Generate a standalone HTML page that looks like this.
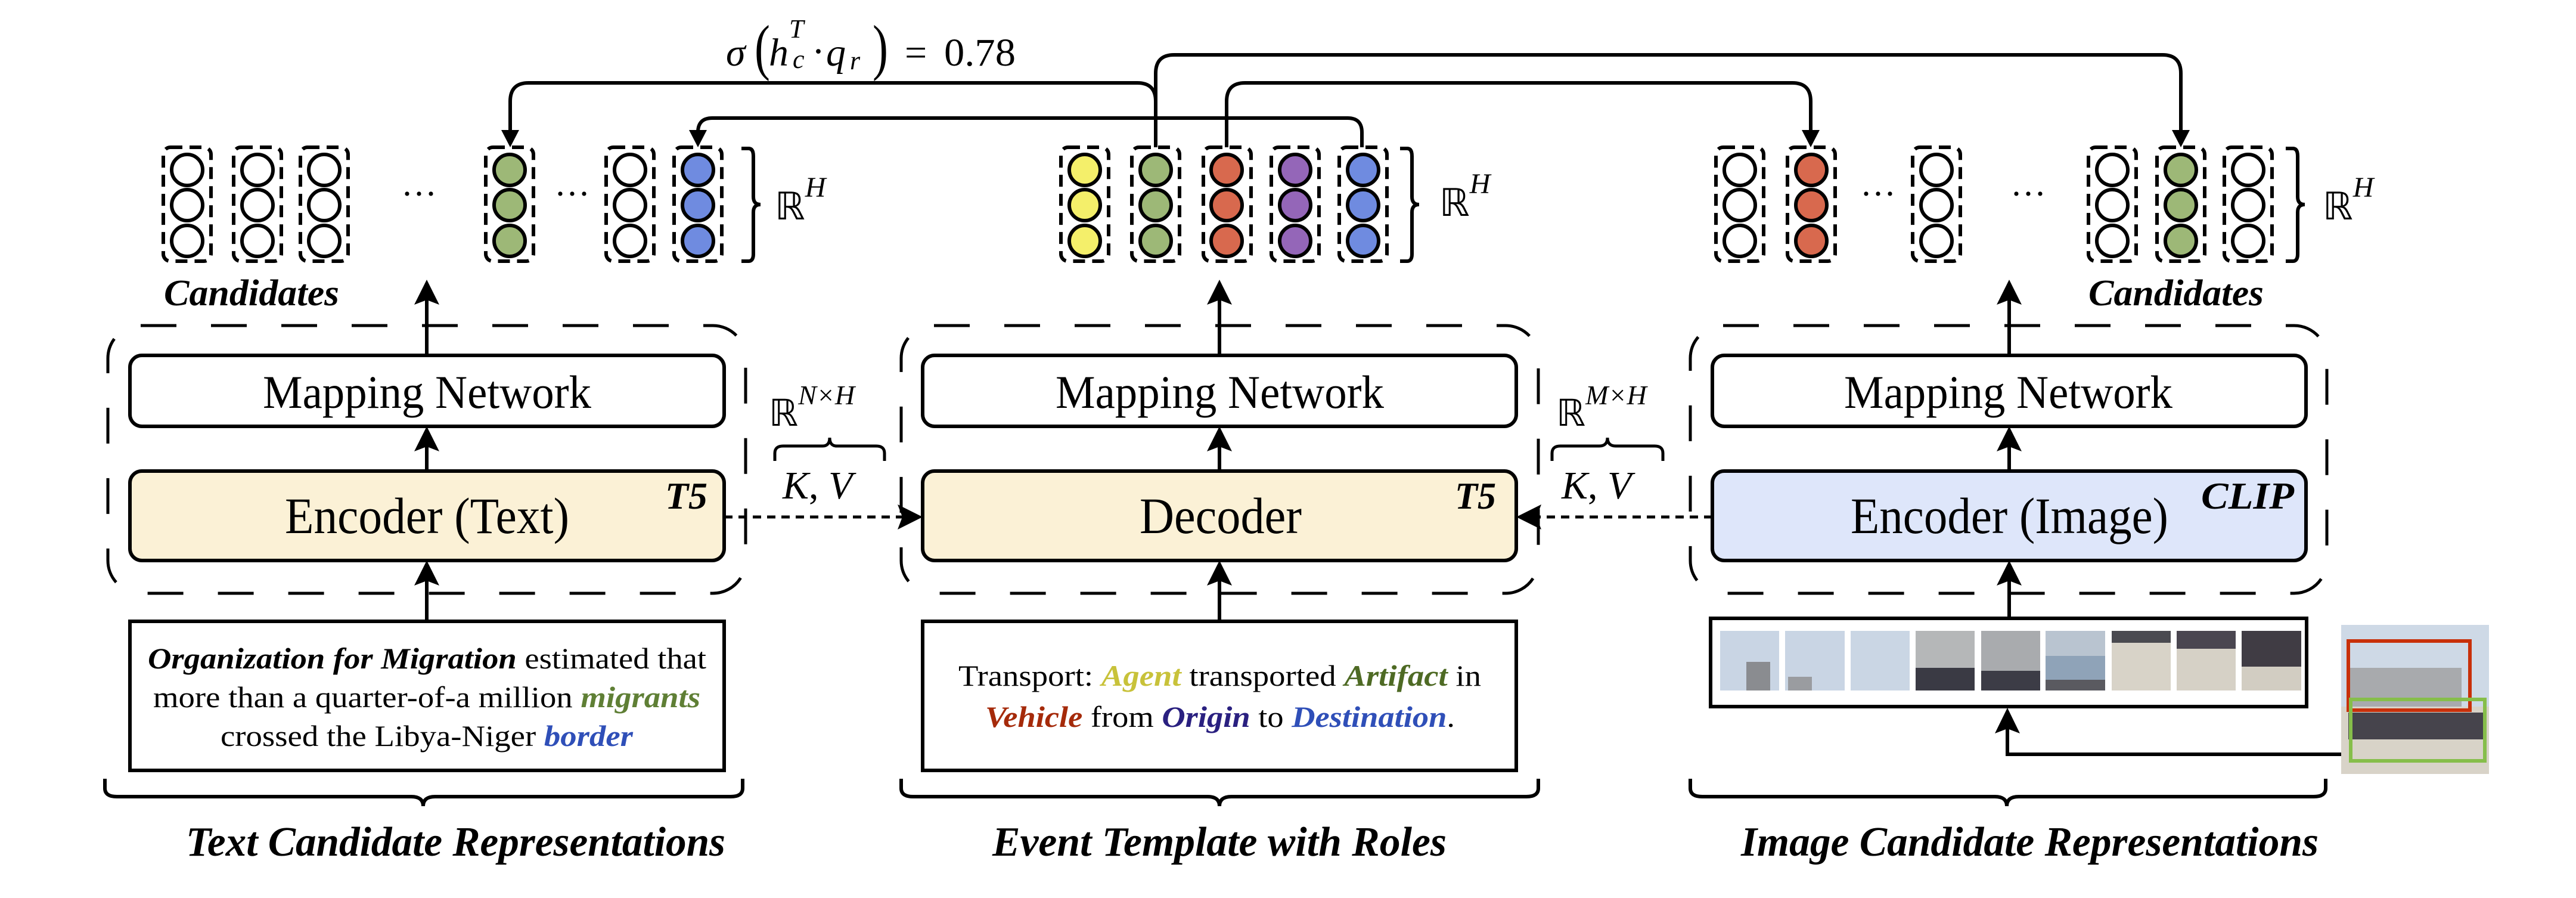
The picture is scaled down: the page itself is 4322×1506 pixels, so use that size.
<!DOCTYPE html>
<html><head><meta charset="utf-8"><style>
html,body{margin:0;padding:0;background:#fff;}
svg{display:block;}
.serif{font-family:"Liberation Serif",serif;}
</style></head><body>
<svg width="4322" height="1506" viewBox="0 0 4322 1506" xmlns="http://www.w3.org/2000/svg" class="serif">
<defs>
<g id="col"><rect x="0" y="0" width="80" height="191" rx="12" fill="none" stroke="#000" stroke-width="6" stroke-dasharray="20 12"/></g>
</defs>

<!-- formula -->
<g font-size="66">
<text x="1218" y="110" font-style="italic">σ</text>
<text x="1266" y="114" font-size="104" transform="translate(1266 0) scale(0.75 1) translate(-1266 0)">(</text>
<text x="1290" y="110" font-style="italic">h</text>
<text x="1324" y="63" font-style="italic" font-size="44">T</text>
<text x="1330" y="114" font-style="italic" font-size="44">c</text>
<text x="1362" y="108">·</text>
<text x="1386" y="110" font-style="italic">q</text>
<text x="1426" y="116" font-style="italic" font-size="44">r</text>
<text x="1464" y="114" font-size="104" transform="translate(1464 0) scale(0.75 1) translate(-1464 0)">)</text>
<text x="1518" y="110">=</text>
<text x="1584" y="110" textLength="120" lengthAdjust="spacingAndGlyphs">0.78</text>
</g>

<!-- connector lines -->
<g fill="none" stroke="#000" stroke-width="6">
<path d="M856 225 V170 Q856 139 887 139 H1908 Q1939 139 1939 170"/>
<path d="M1939 247 V123 Q1939 92 1970 92 H3628 Q3659 92 3659 123 V225"/>
<path d="M2058 247 V170 Q2058 139 2089 139 H3007 Q3038 139 3038 170 V225"/>
<path d="M2285 247 V222 Q2285 198 2261 198 H1195 Q1171 198 1171 222 V225"/>
</g>
<g fill="#000">
<polygon points="841,218 871,218 856,247"/>
<polygon points="1156,218 1186,218 1171,247"/>
<polygon points="3023,218 3053,218 3038,247"/>
<polygon points="3644,218 3674,218 3659,247"/>
</g>

<!-- candidate columns -->
<g stroke="#000" stroke-width="6">
<use href="#col" x="274" y="247"/><use href="#col" x="392" y="247"/><use href="#col" x="504" y="247"/>
<use href="#col" x="815" y="247"/><use href="#col" x="1017" y="247"/><use href="#col" x="1131" y="247"/>
<g fill="#fff"><circle cx="314" cy="285" r="26"/><circle cx="314" cy="344" r="26"/><circle cx="314" cy="404" r="26"/>
<circle cx="432" cy="285" r="26"/><circle cx="432" cy="344" r="26"/><circle cx="432" cy="404" r="26"/>
<circle cx="544" cy="285" r="26"/><circle cx="544" cy="344" r="26"/><circle cx="544" cy="404" r="26"/>
<circle cx="1057" cy="285" r="26"/><circle cx="1057" cy="344" r="26"/><circle cx="1057" cy="404" r="26"/></g>
<g fill="#9DB877"><circle cx="855" cy="285" r="26"/><circle cx="855" cy="344" r="26"/><circle cx="855" cy="404" r="26"/></g>
<g fill="#6F8BE0"><circle cx="1171" cy="285" r="26"/><circle cx="1171" cy="344" r="26"/><circle cx="1171" cy="404" r="26"/></g>
<use href="#col" x="1780" y="247"/><use href="#col" x="1899" y="247"/><use href="#col" x="2019" y="247"/><use href="#col" x="2133" y="247"/><use href="#col" x="2247" y="247"/>
<g fill="#F4EF6A"><circle cx="1820" cy="285" r="26"/><circle cx="1820" cy="344" r="26"/><circle cx="1820" cy="404" r="26"/></g>
<g fill="#9DB877"><circle cx="1939" cy="285" r="26"/><circle cx="1939" cy="344" r="26"/><circle cx="1939" cy="404" r="26"/></g>
<g fill="#D8694E"><circle cx="2058" cy="285" r="26"/><circle cx="2058" cy="344" r="26"/><circle cx="2058" cy="404" r="26"/></g>
<g fill="#9466B8"><circle cx="2173" cy="285" r="26"/><circle cx="2173" cy="344" r="26"/><circle cx="2173" cy="404" r="26"/></g>
<g fill="#6F8BE0"><circle cx="2287" cy="285" r="26"/><circle cx="2287" cy="344" r="26"/><circle cx="2287" cy="404" r="26"/></g>
<use href="#col" x="2879" y="247"/><use href="#col" x="2999" y="247"/><use href="#col" x="3209" y="247"/>
<use href="#col" x="3504" y="247"/><use href="#col" x="3619" y="247"/><use href="#col" x="3732" y="247"/>
<g fill="#fff"><circle cx="2919" cy="285" r="26"/><circle cx="2919" cy="344" r="26"/><circle cx="2919" cy="404" r="26"/>
<circle cx="3249" cy="285" r="26"/><circle cx="3249" cy="344" r="26"/><circle cx="3249" cy="404" r="26"/>
<circle cx="3544" cy="285" r="26"/><circle cx="3544" cy="344" r="26"/><circle cx="3544" cy="404" r="26"/>
<circle cx="3772" cy="285" r="26"/><circle cx="3772" cy="344" r="26"/><circle cx="3772" cy="404" r="26"/></g>
<g fill="#D8694E"><circle cx="3039" cy="285" r="26"/><circle cx="3039" cy="344" r="26"/><circle cx="3039" cy="404" r="26"/></g>
<g fill="#9DB877"><circle cx="3659" cy="285" r="26"/><circle cx="3659" cy="344" r="26"/><circle cx="3659" cy="404" r="26"/></g>
</g>

<g font-size="60" text-anchor="middle"><text x="703" y="345">···</text><text x="960" y="345">···</text><text x="3151" y="345">···</text><text x="3403" y="345">···</text></g>

<g fill="none" stroke="#000" stroke-width="6">
<path d="M1244 249 H1256 Q1264 249 1264 262 V330 Q1264 343 1276 343 Q1264 343 1264 356 V426 Q1264 438 1256 438 H1244"/>
<path d="M2349 249 H2361 Q2369 249 2369 262 V330 Q2369 343 2381 343 Q2369 343 2369 356 V426 Q2369 438 2361 438 H2349"/>
<path d="M3835 249 H3847 Q3855 249 3855 262 V330 Q3855 343 3867 343 Q3855 343 3855 356 V426 Q3855 438 3847 438 H3835"/>
</g>
<g font-size="64"><text x="1300" y="368">ℝ<tspan font-style="italic" font-size="48" dy="-38">H</tspan></text>
<text x="2415" y="362">ℝ<tspan font-style="italic" font-size="48" dy="-38">H</tspan></text>
<text x="3897" y="368">ℝ<tspan font-style="italic" font-size="48" dy="-38">H</tspan></text></g>

<g font-size="62" font-weight="bold" font-style="italic">
<text x="275" y="512" textLength="294" lengthAdjust="spacingAndGlyphs">Candidates</text>
<text x="3504" y="512" textLength="294" lengthAdjust="spacingAndGlyphs">Candidates</text>
</g>

<g fill="none" stroke="#000" stroke-width="5" stroke-dasharray="60 58">
<rect x="181" y="546" width="1070" height="449" rx="55"/>
<rect x="1512" y="546" width="1069" height="449" rx="55"/>
<rect x="2836" y="546" width="1068" height="449" rx="55"/>
</g>

<g stroke="#000" stroke-width="6">
<rect x="218" y="596" width="997" height="119" rx="20" fill="#fff"/>
<rect x="218" y="790" width="997" height="150" rx="20" fill="#FBF1D6"/>
<rect x="1548" y="596" width="996" height="119" rx="20" fill="#fff"/>
<rect x="1548" y="790" width="996" height="150" rx="20" fill="#FBF1D6"/>
<rect x="2873" y="596" width="996" height="119" rx="20" fill="#fff"/>
<rect x="2873" y="790" width="996" height="150" rx="20" fill="#DEE6FA"/>
<rect x="218" y="1042" width="997" height="250" fill="#fff"/>
<rect x="1548" y="1042" width="996" height="250" fill="#fff"/>
<rect x="2870" y="1037" width="1000" height="148" fill="#fff"/>
</g>

<g font-size="78">
<text x="441" y="684" textLength="551" lengthAdjust="spacingAndGlyphs">Mapping Network</text>
<text x="1771" y="684" textLength="551" lengthAdjust="spacingAndGlyphs">Mapping Network</text>
<text x="3094" y="684" textLength="551" lengthAdjust="spacingAndGlyphs">Mapping Network</text>
</g>
<g font-size="86">
<text x="478" y="894" textLength="477" lengthAdjust="spacingAndGlyphs">Encoder (Text)</text>
<text x="1912" y="894" textLength="272" lengthAdjust="spacingAndGlyphs">Decoder</text>
<text x="3105" y="894" textLength="533" lengthAdjust="spacingAndGlyphs">Encoder (Image)</text>
</g>
<g font-size="64" font-weight="bold" font-style="italic">
<text x="1116" y="853" textLength="71" lengthAdjust="spacingAndGlyphs">T5</text>
<text x="2441" y="853" textLength="69" lengthAdjust="spacingAndGlyphs">T5</text>
<text x="3693" y="853" textLength="156" lengthAdjust="spacingAndGlyphs">CLIP</text>
</g>

<g stroke="#000" stroke-width="6">
<line x1="716" y1="596" x2="716" y2="495"/><line x1="716" y1="790" x2="716" y2="740"/><line x1="716" y1="1042" x2="716" y2="965"/>
<line x1="2046" y1="596" x2="2046" y2="495"/><line x1="2046" y1="790" x2="2046" y2="740"/><line x1="2046" y1="1042" x2="2046" y2="965"/>
<line x1="3371" y1="596" x2="3371" y2="495"/><line x1="3371" y1="790" x2="3371" y2="740"/><line x1="3371" y1="1037" x2="3371" y2="965"/>
<polyline points="3928,1265 3368,1265 3368,1215" fill="none"/>
</g>
<g fill="#000">
<polygon points="716,469 695,511 716,503 737,511"/><polygon points="716,715 695,757 716,749 737,757"/><polygon points="716,940 695,982 716,974 737,982"/>
<polygon points="2046,469 2025,511 2046,503 2067,511"/><polygon points="2046,715 2025,757 2046,749 2067,757"/><polygon points="2046,940 2025,982 2046,974 2067,982"/>
<polygon points="3371,469 3350,511 3371,503 3392,511"/><polygon points="3371,715 3350,757 3371,749 3392,757"/><polygon points="3371,940 3350,982 3371,974 3392,982"/>
<polygon points="3368,1187 3347,1230 3368,1222 3389,1230"/>
</g>

<g stroke="#000" stroke-width="5" stroke-dasharray="14 10">
<line x1="1215" y1="867" x2="1520" y2="867"/>
<line x1="2873" y1="867" x2="2570" y2="867"/>
</g>
<g fill="#000"><polygon points="1548,867 1506,846 1514,867 1506,888"/><polygon points="2544,867 2586,846 2578,867 2586,888"/></g>
<g font-size="62">
<text x="1290" y="714">ℝ<tspan font-style="italic" font-size="46" dy="-36">N×H</tspan></text>
<text x="2611" y="714">ℝ<tspan font-style="italic" font-size="46" dy="-36">M×H</tspan></text>
<text x="1313" y="836" font-style="italic" font-size="66">K<tspan font-style="normal">, </tspan>V</text>
<text x="2620" y="836" font-style="italic" font-size="66">K<tspan font-style="normal">, </tspan>V</text>
</g>
<g fill="none" stroke="#000" stroke-width="5">
<path d="M1300 773 V760 Q1300 748 1314 748 H1380 Q1392 748 1392 734 Q1392 748 1404 748 H1470 Q1484 748 1484 760 V773"/>
<path d="M2604 773 V760 Q2604 748 2618 748 H2683 Q2697 748 2697 734 Q2697 748 2711 748 H2776 Q2790 748 2790 760 V773"/>
</g>

<g font-size="50">
<text x="248" y="1121" textLength="937" lengthAdjust="spacingAndGlyphs"><tspan font-weight="bold" font-style="italic">Organization for Migration</tspan> estimated that</text>
<text x="257" y="1186" textLength="918" lengthAdjust="spacingAndGlyphs">more than a quarter-of-a million <tspan font-weight="bold" font-style="italic" fill="#5F7F35">migrants</tspan></text>
<text x="370" y="1251" textLength="692" lengthAdjust="spacingAndGlyphs">crossed the Libya-Niger <tspan font-weight="bold" font-style="italic" fill="#2F4FB8">border</tspan></text>
<text x="1608" y="1150" textLength="877" lengthAdjust="spacingAndGlyphs">Transport: <tspan font-weight="bold" font-style="italic" fill="#C8C23A">Agent</tspan> transported <tspan font-weight="bold" font-style="italic" fill="#4E6A24">Artifact</tspan> in</text>
<text x="1653" y="1219" textLength="788" lengthAdjust="spacingAndGlyphs"><tspan font-weight="bold" font-style="italic" fill="#A52A0A">Vehicle</tspan> from <tspan font-weight="bold" font-style="italic" fill="#2A2080">Origin</tspan> to <tspan font-weight="bold" font-style="italic" fill="#2F4FB8">Destination</tspan>.</text>
</g>

<g>
<rect x="2886" y="1058" width="99" height="100" fill="#C9D5E4"/><rect x="2930" y="1110" width="40" height="48" fill="#8A8C90"/>
<rect x="2995" y="1058" width="100" height="100" fill="#C9D5E4"/><rect x="3000" y="1135" width="40" height="23" fill="#9A9CA0"/>
<rect x="3105" y="1058" width="99" height="100" fill="#CAD6E4"/>
<rect x="3214" y="1058" width="99" height="100" fill="#B5B7B8"/><rect x="3214" y="1120" width="99" height="38" fill="#3A3A44"/>
<rect x="3324" y="1058" width="99" height="100" fill="#A9ABAE"/><rect x="3324" y="1125" width="99" height="33" fill="#3C3C46"/>
<rect x="3432" y="1058" width="100" height="100" fill="#B9C4D0"/><rect x="3432" y="1100" width="100" height="40" fill="#8FA3B8"/><rect x="3432" y="1140" width="100" height="18" fill="#5A5A60"/>
<rect x="3543" y="1058" width="99" height="100" fill="#D8D3C8"/><rect x="3543" y="1058" width="99" height="20" fill="#4A4A50"/>
<rect x="3652" y="1058" width="99" height="100" fill="#D6D1C6"/><rect x="3652" y="1058" width="99" height="30" fill="#4A4650"/>
<rect x="3761" y="1058" width="100" height="100" fill="#D2CDC2"/><rect x="3761" y="1058" width="100" height="60" fill="#403C44"/>
</g>

<rect x="3928" y="1048" width="248" height="250" fill="#CED9E6"/>
<rect x="3940" y="1120" width="190" height="70" fill="#A8AAAD"/>
<rect x="3928" y="1185" width="248" height="113" fill="#D8D3C8"/>
<rect x="3940" y="1195" width="228" height="45" fill="#46444C"/>
<rect x="3940" y="1075" width="204" height="116" fill="none" stroke="#C8300A" stroke-width="6"/>
<rect x="3944" y="1173" width="225" height="103" fill="none" stroke="#86BE4A" stroke-width="6"/>

<g fill="none" stroke="#000" stroke-width="6">
<path d="M176 1306 V1322 Q176 1336 196 1336 H690 Q710 1336 710 1352 Q710 1336 730 1336 H1226 Q1246 1336 1246 1322 V1306"/>
<path d="M1512 1306 V1322 Q1512 1336 1532 1336 H2026 Q2046 1336 2046 1352 Q2046 1336 2066 1336 H2561 Q2581 1336 2581 1322 V1306"/>
<path d="M2836 1306 V1322 Q2836 1336 2856 1336 H3347 Q3367 1336 3367 1352 Q3367 1336 3387 1336 H3882 Q3902 1336 3902 1322 V1306"/>
</g>
<g font-size="70" font-weight="bold" font-style="italic">
<text x="312" y="1435" textLength="905" lengthAdjust="spacingAndGlyphs">Text Candidate Representations</text>
<text x="1665" y="1435" textLength="762" lengthAdjust="spacingAndGlyphs">Event Template with Roles</text>
<text x="2921" y="1435" textLength="969" lengthAdjust="spacingAndGlyphs">Image Candidate Representations</text>
</g>
</svg>
</body></html>
